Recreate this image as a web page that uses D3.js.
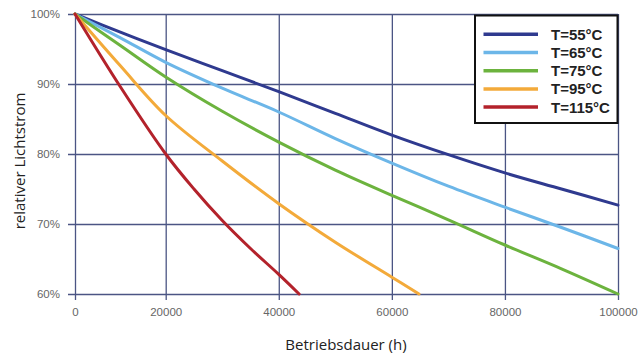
<!DOCTYPE html>
<html><head><meta charset="utf-8">
<script src="https://cdn.jsdelivr.net/npm/d3@7"></script>
<style>
html,body{margin:0;padding:0;background:#fff;}
svg{display:block;}
</style>
</head><body>
<svg id="c" width="638" height="357"></svg>
<script>
// ---- data ----
const xTicks = [0, 20000, 40000, 60000, 80000, 100000];
const yTicks = [60, 70, 80, 90, 100];
const seriesNames = ["T=55°C", "T=65°C", "T=75°C", "T=95°C", "T=115°C"];
const seriesColors = ["#2f3a8f", "#6cb6e8", "#6cb33e", "#f3aa3a", "#b3222b"];

const hoursFull = [0, 10000, 20000, 30000, 40000, 50000, 60000, 70000, 80000, 90000, 100000];
const t55 = [100, 97.4, 94.9, 91.9, 88.9, 85.8, 82.7, 79.9, 77.3, 75.0, 72.7];
const t65 = [100, 96.6, 93.1, 89.4, 86.0, 82.2, 78.7, 75.4, 72.4, 69.5, 66.5];
const t75 = [100, 95.5, 91.0, 86.1, 81.7, 77.7, 74.1, 70.6, 67.0, 63.6, 60.0];
const hours95 = [0, 10000, 20000, 30000, 40000, 50000, 60000, 64800];
const t95 = [100, 92.6, 85.5, 79.0, 72.9, 67.4, 62.4, 60.0];
const hours115 = [0, 10000, 20000, 25000, 30000, 35000, 40000, 43600];
const t115 = [100, 89.6, 80.0, 75.0, 70.5, 66.5, 62.8, 60.0];

const seriesX = [hoursFull, hoursFull, hoursFull, hours95, hours115];
const seriesY = [t55, t65, t75, t95, t115];

// ---- chart ----
const svg = d3.select("#c");
const x = d3.scaleLinear().domain([0, 20000, 100000]).range([75, 165.7, 618]);
const y = d3.scaleLinear().domain([60, 100]).range([294, 14]);
const gridColor = "#4b5584";
const tickFont = "'Liberation Sans', Arial, sans-serif";

// grid + axes
const gx = svg.append("g").attr("transform", "translate(0,294)")
  .call(d3.axisBottom(x).tickValues(xTicks).tickFormat(d3.format("d"))
    .tickSize(-280).tickPadding(14));
gx.select(".domain").remove();
gx.selectAll(".tick line").attr("stroke", gridColor).attr("stroke-width", 1.3)
  .attr("y2", 6).attr("y1", -280);
gx.selectAll(".tick text").attr("fill", "#666").style("font-family", tickFont).style("font-size", "11.5px");

const gy = svg.append("g").attr("transform", "translate(75,0)")
  .call(d3.axisLeft(y).tickValues(yTicks).tickFormat(d => d + "%").tickSize(0).tickPadding(15));
gy.select(".domain").remove();
gy.selectAll(".tick line").attr("stroke", gridColor).attr("stroke-width", 1.3)
  .attr("x1", -7).attr("x2", 543);
gy.selectAll(".tick text").attr("fill", "#666").style("font-family", tickFont).style("font-size", "11.5px");

// lines
const line = d3.line().x(d => x(d[0])).y(d => y(d[1])).curve(d3.curveCatmullRom.alpha(0.5));
seriesY.forEach((vals, i) => {
  const pts = vals.map((v, j) => [seriesX[i][j], v]);
  svg.append("path").datum(pts).attr("d", line)
    .attr("fill", "none").attr("stroke", seriesColors[i])
    .attr("stroke-width", 3).attr("stroke-linecap", "round");
});

// legend
const lg = svg.append("g");
lg.append("rect").attr("x", 475).attr("y", 15.5).attr("width", 142.5).attr("height", 107.5)
  .attr("fill", "#fff").attr("stroke", "#111").attr("stroke-width", 2);
seriesNames.forEach((n, i) => {
  const yy = 34.3 + i * 18.2;
  lg.append("line").attr("x1", 483.5).attr("x2", 538).attr("y1", yy).attr("y2", yy)
    .attr("stroke", seriesColors[i]).attr("stroke-width", 3.5);
  lg.append("text").attr("x", 551).attr("y", yy).attr("dy", "0.36em").text(n)
    .attr("fill", "#222").style("font-family", "'Liberation Sans Narrow', 'Liberation Sans', Arial, sans-serif")
    .style("font-weight", "bold").style("font-size", "15px");
});

// axis titles
svg.append("text").attr("x", 346).attr("y", 350).attr("text-anchor", "middle")
  .text("Betriebsdauer (h)").attr("fill", "#222")
  .style("font-family", "'Open Sans', sans-serif").style("font-size", "15px");
svg.append("text").attr("transform", "translate(25,161) rotate(-90)").attr("text-anchor", "middle")
  .text("relativer Lichtstrom").attr("fill", "#222")
  .style("font-family", "'Open Sans', sans-serif").style("font-size", "15px");
</script>
</body></html>
